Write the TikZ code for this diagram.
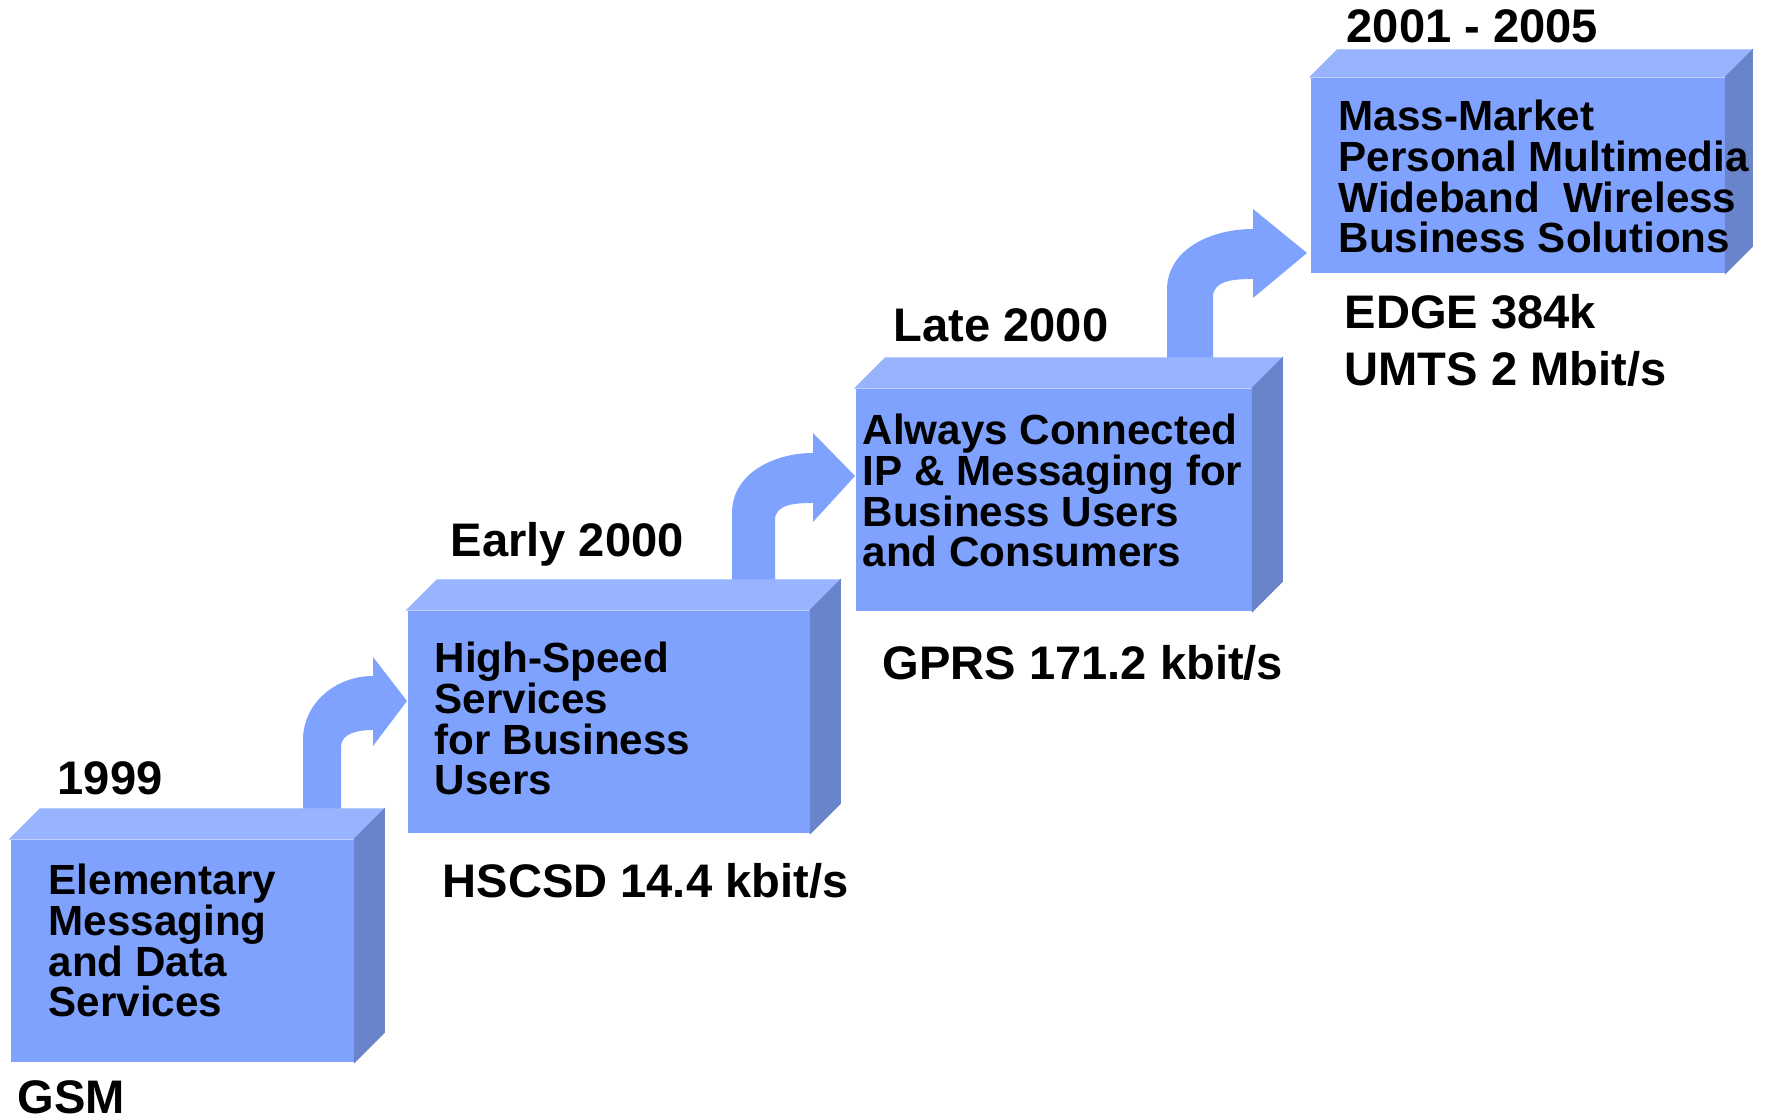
\documentclass[tikz,border=0pt]{standalone}
\usepackage{fontspec}
\setmainfont{Liberation Sans}
\usepackage{xcolor}
\usepackage{tikz}
\usetikzlibrary{calc}
\definecolor{frontblue}{RGB}{128,162,255}
\definecolor{topblue}{RGB}{153,180,255}
\definecolor{sideblue}{RGB}{106,132,204}
\tikzstyle{frontface}=[fill=frontblue, inner sep=0, anchor=north west]
\tikzstyle{boxtext}=[anchor=base west, align=left, inner sep=0, font=\bfseries\fontsize{12}{11.6}\selectfont]
\tikzstyle{yearlabel}=[anchor=base west, align=left, inner sep=0, font=\bfseries\fontsize{13.4}{16.5}\selectfont]
\tikzstyle{bentarrow}=[fill=frontblue]
% top and right faces of a block: node name, depth
\newcommand{\blockfaces}[2]{%
  \filldraw[topblue, line width=0.3pt] (#1.north west) -- ++(#2,#2) -- ($(#1.north east)+(#2,#2)$) -- (#1.north east) -- cycle;
  \filldraw[sideblue, line width=0.3pt] (#1.north east) -- ++(#2,#2) -- ($(#1.south east)+(#2,#2)$) -- (#1.south east) -- cycle;}

\begin{document}
\begin{tikzpicture}
\useasboundingbox (0,0) rectangle (17.66,11.20);
% bent arrows
\fill[bentarrow] (3.03,3.11) -- (3.03,3.80) to[out=90,in=180] (3.73,4.44) -- (3.73,4.63) -- (4.07,4.19)
  -- (3.73,3.74) -- (3.73,3.90) to[out=180,in=90] (3.41,3.73) -- (3.41,3.11) -- cycle;
\fill[bentarrow] (7.32,5.40) -- (7.32,6.07) to[out=90,in=180] (8.13,6.67) -- (8.13,6.87) -- (8.55,6.44)
  -- (8.13,5.98) -- (8.13,6.17) to[out=180,in=90] (7.75,6.00) -- (7.75,5.40) -- cycle;
\fill[bentarrow] (11.67,7.62) -- (11.67,8.30) to[out=90,in=180] (12.53,8.91) -- (12.53,9.11) -- (13.07,8.67)
  -- (12.53,8.22) -- (12.53,8.41) to[out=180,in=90] (12.13,8.23) -- (12.13,7.62) -- cycle;
% blocks
\node[frontface, minimum width=3.43cm, minimum height=2.22cm] (gsm) at (0.10,2.81) {};
\blockfaces{gsm}{0.30}
\node[frontface, minimum width=4.02cm, minimum height=2.22cm] (hscsd) at (4.07,5.10) {};
\blockfaces{hscsd}{0.30}
\node[frontface, minimum width=3.96cm, minimum height=2.22cm] (gprs) at (8.55,7.32) {};
\blockfaces{gprs}{0.30}
\node[frontface, minimum width=4.14cm, minimum height=1.95cm] (umts) at (13.10,10.43) {};
\blockfaces{umts}{0.27}
% block texts (base = last line)
\node[boxtext] (gsmtext) at (0.48,1.03) {Elementary\\Messaging\\and Data\\Services};
\node[boxtext] (hscsdtext) at (4.34,3.25) {High-Speed\\Services\\for Business\\Users};
\node[boxtext] (gprstext) at (8.62,5.53) {Always Connected\\IP \& Messaging for\\Business Users\\and Consumers};
\node[boxtext] (umtstext) at (13.38,8.67) {Mass-Market\\Personal Multimedia\\Wideband\ \ Wireless\\Business Solutions};
% years and rates
\node[yearlabel] (y1999) at (0.57,3.25) {1999};
\node[yearlabel] (gsmrate) at (0.17,0.06) {GSM};
\node[yearlabel] (yearly) at (4.50,5.63) {Early 2000};
\node[yearlabel] (hscsdrate) at (4.42,2.22) {HSCSD 14.4 kbit/s};
\node[yearlabel] (ylate) at (8.93,7.78) {Late 2000};
\node[yearlabel] (gprsrate) at (8.82,4.40) {GPRS 171.2 kbit/s};
\node[yearlabel] (y2001) at (13.46,10.77) {2001 - 2005};
\node[yearlabel] (umtsrate) at (13.44,7.34) {EDGE 384k\\UMTS 2 Mbit/s};
\end{tikzpicture}
\end{document}
